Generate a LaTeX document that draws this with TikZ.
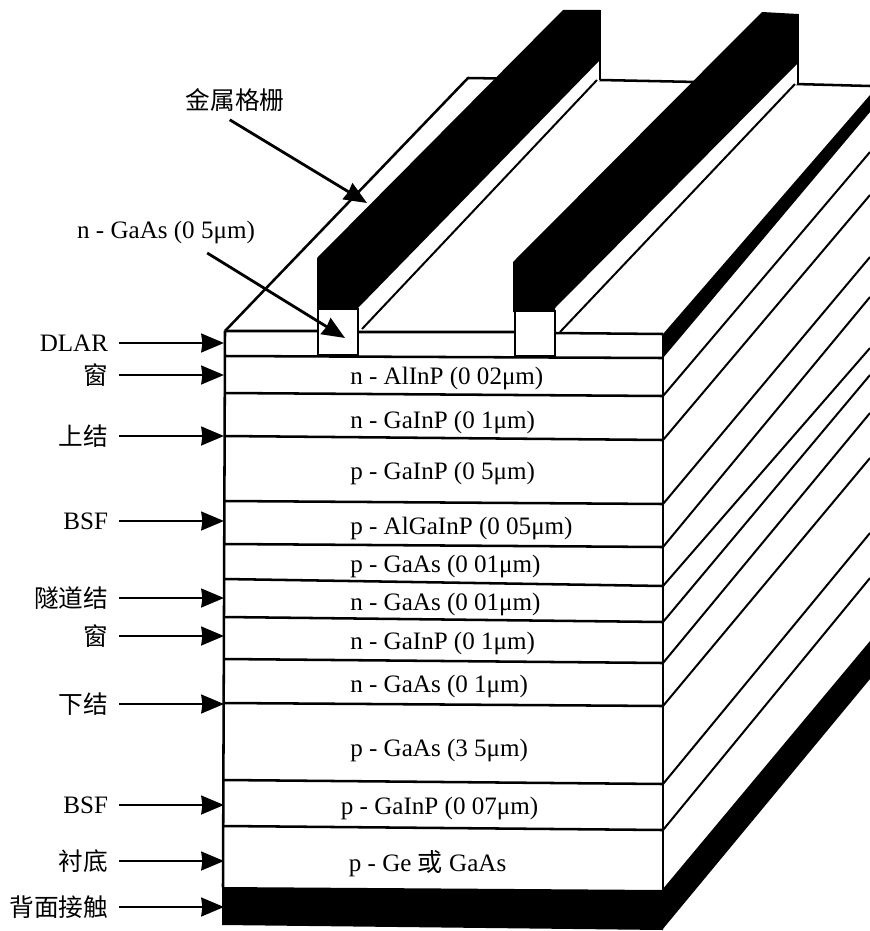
\documentclass[tikz,border=0pt]{standalone}
\usepackage{fontspec}
\setmainfont{Liberation Serif}
\newfontfamily\cjk{Noto Sans CJK SC}
\usetikzlibrary{positioning, arrows.meta}

\begin{document}
\begin{tikzpicture}[
    x=0.75pt, y=-0.75pt,
    edge/.style={line width=1.9pt},
    slope/.style={line width=1.5pt},
    layer/.style={font=\fontsize{18.8}{20}\selectfont, inner sep=0pt},
    lbl/.style={font=\fontsize{18.8}{20}\selectfont, inner xsep=8pt, inner ysep=2pt},
    hanzi/.style={font=\fontsize{18.5}{20}\selectfont\cjk, inner xsep=8pt, inner ysep=2pt},
    arr/.style={-{Stealth[length=17pt, width=14pt, inset=0.8pt]}, line width=2.1pt},
  ]
    \useasboundingbox (0,0) rectangle (870,931);

    % top face and the back edge
    \draw[edge, line join=round] (225,331) -- (468,78) -- (600,80) -- (795,84) -- (870,86);
    % right face
    \fill (663,334) -- (870,95) -- (870,112) -- (663,358) -- cycle;
    \foreach \ya/\yb in {396/152, 440/195, 504/257, 547/297, 586/348, 622/375, 663/413, 706/458, 784/533, 830/578}
      \draw[slope] (663,\ya) -- (870,\yb);
    \fill (662,890) -- (870,641) -- (870,679) -- (662,930) -- cycle;

    % first grid finger
    \fill[white] (358,308) -- (597,60) -- (600,80) -- (362,329) -- cycle;
    \fill (317,258) -- (563,10) -- (600,10) -- (600,60) -- (358,308) -- (358,312) -- (317,312) -- cycle;
    \draw[slope] (600,10) -- (600,80);
    \draw[slope] (362,329) -- (597,80);
    % second grid finger
    \fill[white] (555,308) -- (795,63) -- (797,84) -- (560,332) -- cycle;
    \fill (513,262) -- (762,12) -- (798,14) -- (798,63) -- (555,308) -- (555,312) -- (513,312) -- cycle;
    \draw[slope] (798,14) -- (798,84);
    \draw[slope] (560,332) -- (795,84);

    % front face
    \draw[edge] (225,331) -- (319,331) (358,332) -- (515,332) (555,333) -- (663,334);
    \draw[edge] (225,331) -- (223,887);
    \draw[edge] (663,334) -- (663,890);
    \foreach \ya/\yb in {356/358, 393/396, 436/440, 501/504, 544/547, 579/586, 617/622, 659/663, 703/706, 780/784, 826/830}
      \draw[edge] (224,\ya) -- (663,\yb);
    \fill (222,887) -- (663,890) -- (663,930) -- (222,925) -- cycle;

    % contact caps
    \draw[edge, fill=white] (318,309) rectangle (358,355);
    \draw[edge, fill=white] (515,311) rectangle (555,356);

    % layer names
    \node[layer, anchor=west] (alinp) at (350,378) {n - AlInP (0 02μm)};
    \node[layer, below=33pt of alinp.west, anchor=west] (gainpa) {n - GaInP (0 1μm)};
    \node[layer, below=38.25pt of gainpa.west, anchor=west] (gainpb) {p - GaInP (0 5μm)};
    \node[layer, below=41.25pt of gainpb.west, anchor=west] (algainp) {p - AlGaInP (0 05μm)};
    \node[layer, below=28.5pt of algainp.west, anchor=west] (gaasa) {p - GaAs (0 01μm)};
    \node[layer, below=28.5pt of gaasa.west, anchor=west] (gaasb) {n - GaAs (0 01μm)};
    \node[layer, below=29.25pt of gaasb.west, anchor=west] (gainpc) {n - GaInP (0 1μm)};
    \node[layer, below=32.25pt of gainpc.west, anchor=west] (gaasc) {n - GaAs (0 1μm)};
    \node[layer, below=48pt of gaasc.west, anchor=west] (gaasd) {p - GaAs (3 5μm)};
    \node[layer, below=43.5pt of gaasd.west, anchor=west, xshift=-7pt] (gainpd) {p - GaInP (0 07μm)};
    \node[layer, below=42pt of gainpd.west, anchor=west, xshift=6pt] (subst) {p - Ge {\cjk 或} GaAs};

    % names at the left
    \coordinate (faceleft) at (224,600);
    \node[lbl, anchor=east] (dlar) at (119,343) {DLAR};
    \node[hanzi, below=24pt of dlar.east, anchor=east] (wina) {窗};
    \node[hanzi, below=45.75pt of wina.east, anchor=east] (topj) {上结};
    \node[lbl, below=63.75pt of topj.east, anchor=east] (bsfa) {BSF};
    \node[hanzi, below=57.75pt of bsfa.east, anchor=east] (tunnel) {隧道结};
    \node[hanzi, below=28.5pt of tunnel.east, anchor=east] (winb) {窗};
    \node[hanzi, below=51pt of winb.east, anchor=east] (botj) {下结};
    \node[lbl, below=75.75pt of botj.east, anchor=east] (bsfb) {BSF};
    \node[hanzi, below=42pt of bsfb.east, anchor=east] (base) {衬底};
    \node[hanzi, below=34.5pt of base.east, anchor=east] (back) {背面接触};

    \foreach \n in {dlar, wina, topj, bsfa, tunnel, winb, botj, bsfb, base, back}
      \draw[arr] (\n.east) -- (\n.east -| faceleft);

    % names at the top, with the long arrows
    \coordinate (gridtip) at (367,203);
    \coordinate (captip) at (345,338);
    \node[hanzi, inner ysep=6pt] (grid) at (235,100) {金属格栅};
    \node[lbl, inner ysep=7pt] (cap) at (166,232) {n - GaAs (0 5μm)};
    \draw[arr] (grid.255) -- (gridtip);
    \draw[arr] (cap.-27) -- (captip);
  \end{tikzpicture}
\end{document}
